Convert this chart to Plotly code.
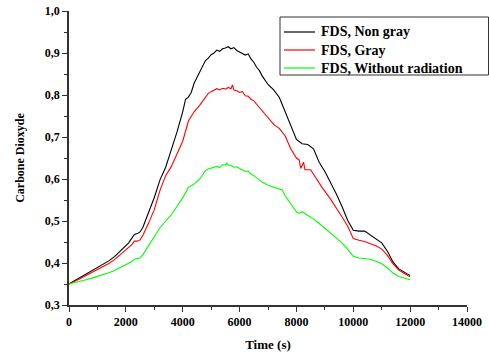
import plotly.graph_objects as go

# ---- data ----
t_black = [0, 200, 400, 600, 800, 1000, 1200, 1400, 1600, 1800, 2000, 2100, 2200, 2300, 2400, 2500,
           2600, 2800, 3000, 3200, 3400, 3600, 3800, 4000, 4100, 4200, 4300, 4400, 4600,
           4800, 4900, 5000, 5100, 5200, 5300, 5400, 5500, 5600, 5700, 5800, 5900, 6000, 6100, 6200,
           6300, 6400, 6500, 6600, 6700, 6800,
           7000, 7200, 7400, 7600, 7800, 8000,
           8200, 8400, 8600, 8800, 9000, 9200, 9400, 9600, 9800, 10000, 10200, 10400, 10600, 10800,
           11000, 11200, 11400, 11600, 11800, 12000]
v_black = [0.350, 0.358, 0.366, 0.374, 0.381, 0.388, 0.396, 0.405, 0.415, 0.428, 0.442, 0.448, 0.458,
           0.468, 0.470, 0.474, 0.485, 0.520, 0.556, 0.598, 0.628, 0.670, 0.712, 0.760, 0.790, 0.795,
           0.806, 0.828, 0.855,
           0.882, 0.888, 0.896, 0.900, 0.907, 0.904, 0.910, 0.912, 0.915, 0.910, 0.913, 0.906, 0.902,
           0.898, 0.895, 0.898, 0.886, 0.878, 0.866, 0.858, 0.845,
           0.825, 0.812, 0.794, 0.762, 0.728, 0.694,
           0.684, 0.682, 0.672, 0.640, 0.618, 0.592, 0.565, 0.535, 0.502, 0.478, 0.476, 0.476, 0.466,
           0.458, 0.448, 0.428, 0.402, 0.386, 0.378, 0.370]

t_red = [0, 200, 400, 600, 800, 1000, 1200, 1400, 1600, 1800, 2000, 2200, 2300, 2400, 2500, 2600,
         2800, 3000, 3200, 3400, 3600, 3800, 4000, 4200, 4400, 4600,
         4800, 4900, 5000, 5100, 5200, 5300, 5400, 5500, 5600, 5700, 5750, 5800, 5900, 6000, 6100,
         6200, 6300, 6400, 6500, 6600, 6700, 6800,
         7000, 7200, 7400, 7600, 7800, 8000, 8100, 8150,
         8250, 8300, 8500, 8700, 8900, 9200, 9400, 9600, 9800, 10000, 10200, 10400, 10600, 10800,
         11000, 11200, 11400, 11600, 11800, 12000]
v_red = [0.350, 0.356, 0.363, 0.370, 0.377, 0.384, 0.391, 0.399, 0.408, 0.420, 0.432, 0.443, 0.452,
         0.452, 0.455, 0.466, 0.495, 0.527, 0.573, 0.608, 0.630, 0.660, 0.690, 0.738, 0.760, 0.776,
         0.795, 0.804, 0.808, 0.812, 0.815, 0.812, 0.816, 0.814, 0.818, 0.815, 0.824, 0.812, 0.810,
         0.806, 0.808, 0.798, 0.797, 0.790, 0.786, 0.778, 0.770, 0.760,
         0.745, 0.730, 0.720, 0.703, 0.672, 0.650, 0.645, 0.625,
         0.640, 0.622, 0.622, 0.600, 0.580, 0.552, 0.532, 0.510, 0.488, 0.458, 0.454, 0.451, 0.446,
         0.441, 0.433, 0.418, 0.398, 0.383, 0.375, 0.367]

t_green = [0, 200, 400, 600, 800, 1000, 1200, 1400, 1600, 1800, 2000, 2200, 2300, 2400, 2500, 2600,
           2800, 3000, 3200, 3400, 3600, 3800, 4000, 4200, 4400, 4600,
           4800, 4900, 5000, 5100, 5200, 5300, 5400, 5500, 5550, 5600, 5700, 5800, 5900, 6000, 6100,
           6200, 6300, 6400, 6500, 6600, 6700, 6800,
           7000, 7200, 7400, 7500, 7600, 7800, 8000, 8100,
           8200, 8400, 8600, 8800, 9000, 9200, 9400, 9600, 9800, 10000, 10200, 10400, 10600, 10800,
           11000, 11200, 11400, 11600, 11800, 12000]
v_green = [0.350, 0.353, 0.356, 0.360, 0.364, 0.368, 0.372, 0.377, 0.382, 0.389, 0.396, 0.403, 0.409,
           0.410, 0.412, 0.420, 0.442, 0.464, 0.484, 0.500, 0.515, 0.535, 0.555, 0.580, 0.588, 0.600,
           0.620, 0.624, 0.626, 0.628, 0.630, 0.627, 0.634, 0.633, 0.638, 0.634, 0.632, 0.628, 0.629,
           0.625, 0.622, 0.618, 0.619, 0.612, 0.608, 0.602, 0.598, 0.592,
           0.585, 0.580, 0.575, 0.574, 0.560, 0.540, 0.522, 0.518,
           0.522, 0.513, 0.505, 0.494, 0.483, 0.471, 0.460, 0.448, 0.433, 0.416, 0.412, 0.411, 0.409,
           0.404, 0.398, 0.388, 0.376, 0.368, 0.364, 0.360]

series_names = ["FDS, Non gray", "FDS, Gray", "FDS, Without radiation"]
series_colors = ["#000000", "#ff0000", "#00ff00"]

x_tickvals = [0, 2000, 4000, 6000, 8000, 10000, 12000, 14000]
x_ticktext = ["0", "2000", "4000", "6000", "8000", "10000", "12000", "14000"]
y_tickvals = [0.3, 0.4, 0.5, 0.6, 0.7, 0.8, 0.9, 1.0]
y_ticktext = ["0,3", "0,4", "0,5", "0,6", "0,7", "0,8", "0,9", "1,0"]

# ---- figure ----
FONT = "Liberation Serif"
AX = "#333333"

W, H = 489, 353
PX0, PX1, PY0, PY1 = 69, 467, 11, 305   # plot area in pixels
PW, PH = PX1 - PX0, PY1 - PY0


def px2paper_x(px):
    return (px - PX0) / PW


def px2paper_y(py):
    return (PY1 - py) / PH


fig = go.Figure()
for name, xs, ys, col in zip(series_names, [t_black, t_red, t_green],
                             [v_black, v_red, v_green], series_colors):
    fig.add_trace(go.Scatter(x=xs, y=ys, mode="lines", name=name,
                             line=dict(color=col, width=1.1), showlegend=False))

# legend box drawn by hand (matches the reference's tight row spacing)
shapes = [dict(type="rect", xref="paper", yref="paper",
               x0=px2paper_x(280), x1=px2paper_x(488.5), y0=px2paper_y(75), y1=px2paper_y(17),
               line=dict(color=AX, width=1), fillcolor="white", layer="above")]
annotations = []
row_y = [32, 50, 68]
for name, col, ry in zip(series_names, series_colors, row_y):
    shapes.append(dict(type="line", xref="paper", yref="paper",
                       x0=px2paper_x(284), x1=px2paper_x(315),
                       y0=px2paper_y(ry), y1=px2paper_y(ry),
                       line=dict(color=col, width=1.2), layer="above"))
    annotations.append(dict(xref="paper", yref="paper", x=px2paper_x(319), y=px2paper_y(ry),
                            xanchor="left", yanchor="middle", showarrow=False, text=name,
                            font=dict(family=FONT, size=14, color="#000000", weight="bold")))

fig.update_layout(
    width=W, height=H,
    margin=dict(l=PX0, r=W - PX1, t=PY0, b=H - PY1),
    paper_bgcolor="white", plot_bgcolor="white",
    font=dict(family=FONT, size=12, color="#000000"),
    showlegend=False,
    shapes=shapes, annotations=annotations,
    xaxis=dict(
        range=[0, 14000], tickvals=x_tickvals, ticktext=x_ticktext, automargin=False,
        showgrid=False, zeroline=False, showline=True, linecolor=AX, linewidth=1.5,
        ticks="outside", ticklen=5, tickwidth=1.2, tickcolor=AX, ticklabeloverflow="allow",
        minor=dict(ticks="outside", ticklen=3, tickwidth=1, tickcolor=AX, dtick=1000),
        tickfont=dict(family=FONT, size=12, weight="bold"),
        title=dict(text="Time (s)", font=dict(family=FONT, size=13, weight="bold"), standoff=12),
    ),
    yaxis=dict(
        range=[0.3, 1.0], tickvals=y_tickvals, ticktext=y_ticktext, automargin=False,
        showgrid=False, zeroline=False, showline=True, linecolor=AX, linewidth=1.5,
        ticks="outside", ticklen=5, tickwidth=1.2, tickcolor=AX, ticklabeloverflow="allow",
        minor=dict(ticks="outside", ticklen=3, tickwidth=1, tickcolor=AX, dtick=0.05),
        tickfont=dict(family=FONT, size=12, weight="bold"),
        title=dict(text="Carbone Dioxyde", font=dict(family=FONT, size=12, weight="bold"), standoff=18),
    ),
)

# remove the page's default 8px body margin so the figure fills the window exactly
fig.write_html("out.html", config={"displayModeBar": False},
               post_script="document.body.style.margin='0px';")
